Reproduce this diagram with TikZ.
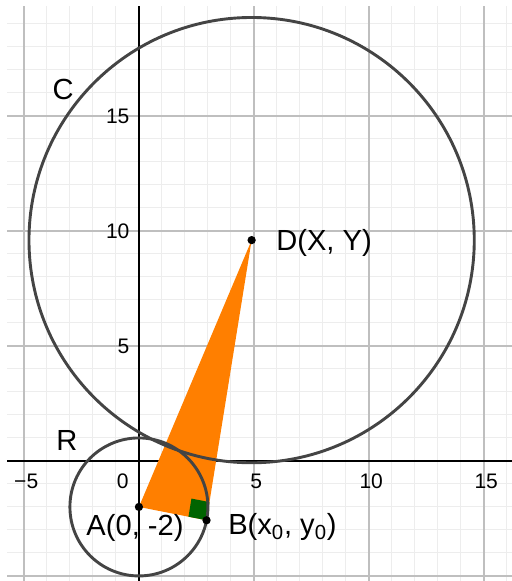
\documentclass[tikz,border=0pt]{standalone}
\usepackage{fontspec}
\setmainfont{Liberation Sans}
\usetikzlibrary{calc}
\definecolor{ggorange}{RGB}{255,127,0}
\definecolor{gggreen}{RGB}{0,100,0}
\definecolor{ggline}{RGB}{68,68,68}

\begin{document}
\begin{tikzpicture}[x=0.5cm, y=0.5cm,
  curve/.style={draw=ggline, line width=1.8pt},
  ticklab/.style={font=\fontsize{13}{15}\selectfont, inner sep=0pt},
  ptlab/.style={font=\fontsize{18}{21}\selectfont, inner sep=0pt}]

  \useasboundingbox (-6.04,-5.22) rectangle (16.22,20.04);

  % -- Grid --
  \draw[black!7, line width=0.6pt] (-5.72,-5.22) grid[step=1] (16.22,19.78);
  \draw[black!25, line width=0.9pt] (-5.72,-5.22) grid[step=5] (16.22,19.78);

  % -- Axes --
  \draw[black, line width=0.9pt] (-5.72,0) -- (16.22,0);
  \draw[black, line width=0.9pt] (0,-5.22) -- (0,19.78);

  % -- Tick labels --
  \foreach \x/\lab in {-5/−5, 5/5, 10/10, 15/15}
    \node[ticklab] (xt\x) at (\x+0.1,-0.87) {\lab};
  \node[ticklab] (xt0) at (-0.7,-0.87) {0};
  \foreach \y in {5,10,15}
    \node[ticklab, anchor=east] (yt\y) at (-0.4,\y) {\y};

  % -- Points --
  \coordinate (A) at (0,-2);
  \coordinate (D) at (4.9,9.6);
  \coordinate (B) at (2.94,-2.58);

  % -- Triangle --
  \fill[ggorange] (A) -- (B) -- (D) -- cycle;

  % -- Right angle at B --
  \coordinate (Ba) at ($(B)!0.4cm!(A)$);
  \coordinate (Bd) at ($(B)!0.4cm!(D)$);
  \fill[gggreen] (B) -- (Ba) -- ($(Ba)+(Bd)-(B)$) -- (Bd) -- cycle;

  % -- Circles C and R --
  \draw[curve] (D) circle[radius=9.68];
  \draw[curve] (A) circle[radius=3];

  % -- Dots --
  \fill[black] (A) circle[radius=0.18];
  \fill[black] (B) circle[radius=0.18];
  \fill[black] (D) circle[radius=0.18];

  % -- Labels --
  \node[ptlab] (labC) at (-3.3,16.13) {C};
  \node[ptlab] (labR) at (-3.13,0.91) {R};
  \node[ptlab, anchor=west] (labD) at (5.96,9.48) {D(X, Y)};
  \node[ptlab] (labA) at (-0.17,-2.91) {A(0, -2)};
  \node[ptlab, anchor=west] (labB) at (3.87,-2.87) {B(x\textsubscript{0}, y\textsubscript{0})};

\end{tikzpicture}
\end{document}
